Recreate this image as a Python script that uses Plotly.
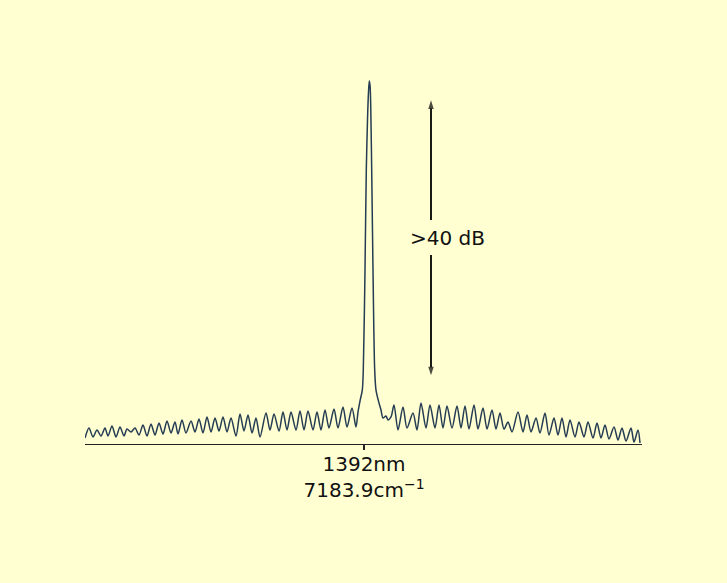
import plotly.graph_objects as go

# Spectrum: wavelength (nm) and relative level (dB)
wavelength_nm = [
    1364.1, 1364.5, 1364.9, 1365.3, 1365.7, 1366.1, 1366.4, 1366.8, 1367.2, 1367.6,
    1368.0, 1368.3, 1368.7, 1369.1, 1369.5, 1369.9, 1370.3, 1370.7, 1371.1, 1371.5,
    1371.9, 1372.3, 1372.7, 1373.1, 1373.4, 1373.8, 1374.2, 1374.7, 1375.1, 1375.5,
    1375.9, 1376.3, 1376.7, 1377.1, 1377.5, 1377.9, 1378.3, 1378.7, 1379.2, 1379.6,
    1380.0, 1380.4, 1380.8, 1381.2, 1381.6, 1382.2, 1382.6, 1383.0, 1383.5, 1383.9,
    1384.3, 1384.7, 1385.2, 1385.6, 1386.0, 1386.4, 1386.9, 1387.3, 1387.7, 1388.1,
    1388.5, 1389.0, 1389.4, 1389.9, 1390.3, 1390.8, 1391.2, 1391.4, 1391.6, 1391.83,
    1391.93, 1392.10, 1392.23, 1392.35, 1392.45, 1392.53, 1392.61, 1392.68, 1392.77, 1392.90,
    1393.07, 1393.20, 1393.50, 1393.7, 1393.9, 1394.2, 1394.4, 1394.7, 1395.0, 1395.4,
    1395.9, 1396.3, 1396.9, 1397.3, 1397.7, 1398.2, 1398.6, 1399.1, 1399.5, 1399.9,
    1400.3, 1400.8, 1401.3, 1401.7, 1402.1, 1402.5, 1403.0, 1403.4, 1403.9, 1404.3,
    1404.8, 1405.2, 1405.6, 1406.0, 1406.4, 1406.8, 1407.4, 1407.9, 1408.3, 1408.7,
    1409.2, 1409.6, 1410.1, 1410.5, 1411.0, 1411.4, 1411.8, 1412.2, 1412.6, 1413.1,
    1413.5, 1414.0, 1414.4, 1414.9, 1415.3, 1415.7, 1416.1, 1416.5, 1417.0, 1417.4,
    1417.8, 1418.2, 1418.7, 1419.0, 1419.4, 1419.6,
]
level_db = [
    0.87, 2.33, 1.02, 2.04, 1.16, 2.33, 1.16, 2.62, 1.02, 2.47,
    1.16, 2.18, 1.75, 2.33, 1.31, 2.76, 1.16, 2.91, 1.31, 3.05,
    1.45, 3.35, 1.60, 3.20, 1.45, 3.49, 1.60, 3.35, 1.75, 3.64,
    1.60, 3.93, 1.75, 3.78, 1.89, 3.93, 1.75, 3.78, 1.16, 4.36,
    1.89, 4.22, 1.60, 3.78, 1.02, 4.51, 2.04, 4.36, 1.89, 4.65,
    2.04, 4.65, 2.04, 4.80, 2.04, 4.80, 2.04, 4.65, 2.04, 4.95,
    2.33, 5.09, 2.33, 5.38, 2.47, 5.24, 2.47, 4.65, 6.25, 7.85,
    10.76, 25.31, 39.85, 47.13, 51.20, 52.80, 52.07, 48.58, 39.85, 25.31,
    10.76, 7.85, 5.96, 4.95, 3.78, 4.07, 3.49, 3.93, 5.67, 2.04,
    5.38, 2.33, 4.51, 2.04, 5.96, 2.33, 5.67, 2.33, 5.67, 2.33,
    5.53, 2.33, 5.53, 2.33, 5.53, 2.18, 5.67, 2.18, 5.24, 2.18,
    4.95, 2.18, 4.51, 2.18, 3.20, 1.75, 4.65, 1.75, 4.22, 1.75,
    3.78, 1.60, 4.51, 1.31, 3.78, 1.31, 3.78, 1.02, 3.49, 1.02,
    3.20, 1.02, 3.20, 0.87, 3.05, 0.87, 2.76, 0.73, 2.47, 0.58,
    2.33, 0.44, 2.33, 0.29, 2.04, 0.15,
]

tick_values = [1392]
tick_labels = ["1392nm<br>7183.9cm<sup>\u22121</sup>"]

arrow_x = 1398.7
arrow_top_db = 50.0
arrow_bottom_db = 10.0
label_text = ">40 dB"
label_x = 1400.3
label_db = 30.0
gap_top_db = 32.6
gap_bottom_db = 27.5

BG = "#ffffd2"
INK = "#111111"

fig = go.Figure()
fig.add_trace(go.Scatter(
    x=wavelength_nm, y=level_db, mode="lines",
    line=dict(color="#253c52", width=1.5, shape="spline", smoothing=0.8),
    hoverinfo="skip", showlegend=False,
))

# double-headed arrow broken around the label (two halves, head at the far end)
for y_from, y_to in [(gap_top_db, arrow_top_db), (gap_bottom_db, arrow_bottom_db)]:
    fig.add_trace(go.Scatter(
        x=[arrow_x, arrow_x], y=[y_from, y_to], mode="lines+markers",
        line=dict(color="black", width=1.8),
        marker=dict(symbol="arrow", angleref="previous", size=[0, 9], color="black",
                    line=dict(width=0)),
        hoverinfo="skip", showlegend=False, cliponaxis=False,
    ))

fig.add_annotation(x=label_x, y=label_db, xref="x", yref="y", text=label_text,
                   showarrow=False, font=dict(family="DejaVu Sans", size=20, color=INK))

fig.update_xaxes(range=[1364.1, 1419.8], showline=True, linecolor="#222222", linewidth=1.3,
                 ticks="outside", ticklen=5, tickwidth=1.2, tickcolor="#222222",
                 tickvals=tick_values, ticktext=tick_labels, showgrid=False, zeroline=False,
                 ticklabelstandoff=-3,
                 tickfont=dict(family="DejaVu Sans", size=20, color=INK))
fig.update_yaxes(range=[0, 55], visible=False, showgrid=False, zeroline=False)

fig.update_layout(
    width=727, height=583, paper_bgcolor=BG, plot_bgcolor=BG,
    margin=dict(l=85, r=85, t=66, b=139), showlegend=False,
)

fig.write_html(
    "out.html",
    config={"displayModeBar": False, "staticPlot": True},
    post_script="document.body.style.margin='0';document.body.style.background='%s';" % BG,
)
